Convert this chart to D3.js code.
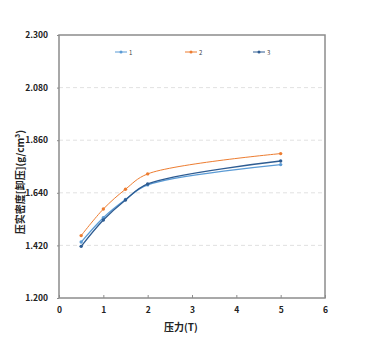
<!DOCTYPE html>
<html><head><meta charset="utf-8">
<script src="https://cdn.jsdelivr.net/npm/d3@7"></script>
<style>body{margin:0;background:#fff}svg{display:block}</style>
</head><body><svg id="c" width="377" height="348"></svg>
<script>
const pressures = [0.5, 1, 1.5, 2, 5];
const seriesNames = ["1", "2", "3"];
const series1 = [1.434, 1.536, 1.612, 1.673, 1.758];
const series2 = [1.461, 1.572, 1.655, 1.719, 1.804];
const series3 = [1.416, 1.526, 1.610, 1.677, 1.773];
const yTicks = [1.200, 1.420, 1.640, 1.860, 2.080, 2.300];
const xTicks = [0, 1, 2, 3, 4, 5, 6];
const colors = ["#5B9BD5", "#ED7D31", "#2E5C92"];
const xTitle = "压力(T)";
const yTitle = "压实密度[卸压](g/cm³)";

const svg = d3.select("#c");
const L = 59, R = 325, T = 35, B = 298;
const x = d3.scaleLinear().domain([0, 6]).range([L, R]);
const y = d3.scaleLinear().domain([1.2, 2.3]).range([B, T]);
const font = "'Noto Sans CJK SC','DejaVu Sans',sans-serif";

// grid
svg.append("g").selectAll("line").data(yTicks.slice(1, -1)).join("line")
  .attr("x1", L).attr("x2", R).attr("y1", d => y(d)).attr("y2", d => y(d))
  .attr("stroke", "#d9d9d9").attr("stroke-width", 0.8).attr("stroke-dasharray", "4,3");

// frame
svg.append("rect").attr("x", L).attr("y", T).attr("width", R - L).attr("height", B - T)
  .attr("fill", "none").attr("stroke", "#8c8c8c").attr("stroke-width", 1.5);

// axes
const xAxis = d3.axisBottom(x).tickValues(xTicks).tickFormat(d3.format("d")).tickSize(-3).tickPadding(9);
const gx = svg.append("g").attr("transform", `translate(0,${B})`).call(xAxis);
gx.select(".domain").remove();
gx.selectAll("line").attr("stroke", "#8c8c8c");
gx.selectAll("text").attr("font-family", font).attr("font-size", 8.5).attr("font-weight", "bold").attr("fill", "#222");

const yAxis = d3.axisLeft(y).tickValues(yTicks).tickFormat(d3.format(".3f")).tickSize(2).tickPadding(9);
const gy = svg.append("g").attr("transform", `translate(${L},0)`).call(yAxis);
gy.select(".domain").remove();
gy.selectAll("line").attr("stroke", "#8c8c8c");
gy.selectAll("text").attr("font-family", font).attr("font-size", 8.5).attr("font-weight", "bold").attr("fill", "#222");

// titles
svg.append("text").attr("x", 181).attr("y", 331).attr("text-anchor", "middle")
  .attr("font-family", font).attr("font-size", 10).attr("font-weight", "bold").attr("fill", "#222").text(xTitle);
svg.append("text").attr("transform", "translate(24,182) rotate(-90)").attr("text-anchor", "middle")
  .attr("font-family", font).attr("font-size", 10).attr("font-weight", "bold").attr("fill", "#222").text(yTitle);

// series
const all = [series1, series2, series3];
const line = d3.line().x(d => x(d[0])).y(d => y(d[1])).curve(d3.curveCatmullRom.alpha(0.5));
all.forEach((vals, i) => {
  const pts = pressures.map((p, j) => [p, vals[j]]);
  svg.append("path").datum(pts).attr("d", line).attr("fill", "none")
    .attr("stroke", colors[i]).attr("stroke-width", i === 1 ? 1 : 1.3);
  svg.append("g").selectAll("circle").data(pts).join("circle")
    .attr("cx", d => x(d[0])).attr("cy", d => y(d[1])).attr("r", 1.7).attr("fill", colors[i]);
});

// legend
const legX = [115, 185, 253];
seriesNames.forEach((n, i) => {
  const g = svg.append("g").attr("transform", `translate(${legX[i]},52)`);
  g.append("line").attr("x1", 0).attr("x2", 12).attr("stroke", colors[i]).attr("stroke-width", 1);
  g.append("circle").attr("cx", 6).attr("r", 1.5).attr("fill", colors[i]);
  g.append("text").attr("x", 14).attr("y", 2.5).attr("font-family", font).attr("font-size", 6)
    .attr("fill", "#444").text(n);
});
</script></body></html>
